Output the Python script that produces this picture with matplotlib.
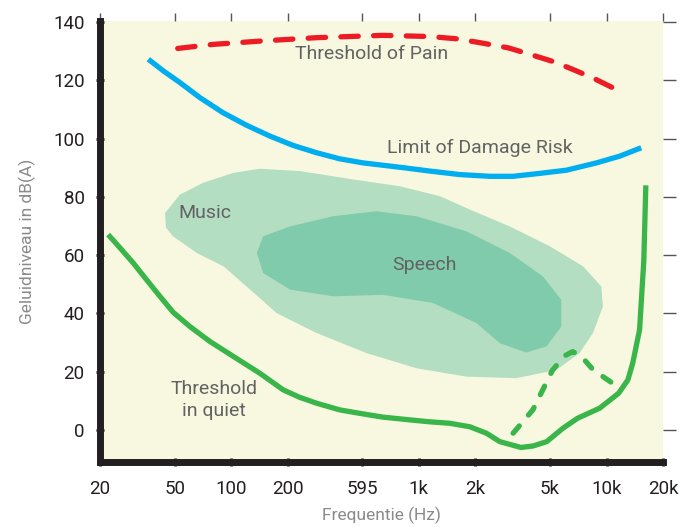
import matplotlib.pyplot as plt
from matplotlib.ticker import FixedLocator, NullLocator

plt.rcParams['font.family'] = ['Roboto', 'DejaVu Sans']

# tick positions / labels (the "595" label sits on the 500 Hz position)
x_ticks = [20, 50, 100, 200, 500, 1000, 2000, 5000, 10000, 20000]
x_labels = ['20', '50', '100', '200', '595', '1k', '2k', '5k', '10k', '20k']
y_ticks = [0, 20, 40, 60, 80, 100, 120, 140]

# Threshold of Pain (red, dashed)
pain_f = [51.9, 80.2, 148, 285, 644, 1144, 1600, 2110, 3000, 3900, 5200, 6620,
          8500, 10800]
pain_db = [131, 132.4, 133.6, 134.7, 135.5, 135.1, 134.3, 133, 131.2, 129, 126.5,
           123.8, 120.8, 117.5]

# Limit of Damage Risk (blue)
risk_f = [36.2, 43.5, 53.3, 68.2, 90.7, 121, 161, 214, 285, 379, 505, 842, 1144,
          1650, 2390, 3180, 4400, 6110, 8830, 11740, 15300]
risk_db = [127.3, 123.3, 119.3, 114.1, 108.9, 104.6, 100.9, 97.7, 95.2, 93.1, 91.7,
           90.0, 88.9, 87.7, 87.1, 87.1, 88.1, 89.2, 91.7, 94.0, 96.9]

# Threshold in quiet (green, solid)
quiet_f = [22.1, 25.6, 30.1, 35.4, 41.7, 49.1, 60.3, 77, 103, 142, 189, 232, 285,
           379, 485, 645, 1100, 1462, 1870, 2290, 2700, 3500, 4060, 4800, 5860,
           7000, 9200, 11600, 13000, 13800, 15000, 15800, 16200]
quiet_db = [67.1, 62.5, 57.3, 51.6, 45.9, 40.4, 35.5, 30.4, 25.2, 19.5, 13.8, 11.2,
            9.2, 6.9, 5.7, 4.4, 2.9, 2.3, 1.1, -1.1, -4, -6, -5.5, -4, 0.6,
            4, 7.5, 12.6, 17.2, 23, 34.4, 58, 84]

# hearing loss bump (green, dashed)
bump_f = [3180, 4050, 5160, 6000, 6600, 7300, 8500, 10800]
bump_db = [-1.1, 6.9, 20.6, 25.5, 26.9, 25.5, 20.6, 16]

# Music area
music_f = [44.4, 53.3, 71, 103, 142, 232, 429, 791, 1291, 1868, 3050, 4980,
           7500, 9380, 9570, 8470, 7190, 5410, 3310, 1795, 971, 526, 285,
           175, 126, 91, 65.5, 49, 44.9]
music_db = [74.5, 80.8, 84.9, 88.3, 89.7, 88.9, 86.2, 83.7, 80.3, 75.7, 69.9,
            63.1, 56.2, 49.3, 42.4, 33.3, 26.4, 20.6, 17.8, 18.3, 21.2, 26.4,
            33.3, 40.1, 48.2, 56.2, 60.8, 66.5, 69.5]

# Speech area
speech_f = [137, 148, 206, 349, 594, 971, 1795, 3050, 4590, 5740, 5740, 4790,
            3740, 2700, 2030, 1190, 645, 349, 206, 148]
speech_db = [60.8, 66.5, 69.9, 73.4, 75.1, 73.4, 68.2, 60.8, 52.7, 44.7, 35.5,
             28.7, 26.6, 29.8, 36.7, 43.6, 46.4, 45.9, 48.2, 53.9]

fig = plt.figure(figsize=(6.84, 5.27), dpi=100)
ax = fig.add_axes([0.1462, 0.1233, 0.8231, 0.8367])
ax.set_facecolor('#f8f8e0')
ax.set_xscale('log')
ax.set_xlim(20, 20000)
ax.set_ylim(-11, 140.4)

ax.fill(music_f, music_db, color='#b4dec2', lw=0)
ax.fill(speech_f, speech_db, color='#80cbab', lw=0)

ax.plot(risk_f, risk_db, color='#00aeef', lw=3.8, solid_capstyle='butt',
        solid_joinstyle='round')
ax.plot(quiet_f, quiet_db, color='#39b54a', lw=3.8, solid_capstyle='butt',
        solid_joinstyle='round')
ax.plot(pain_f, pain_db, color='#ed1c24', lw=3.8, dashes=(3.3, 2.9),
        dash_capstyle='round', dash_joinstyle='round')
ax.plot(bump_f, bump_db, color='#39b54a', lw=3.8, dashes=(1.8, 2.7),
        dash_capstyle='round', dash_joinstyle='round')

txt = dict(color='#626262', fontsize=14, ha='center', va='center')
ax.text(561, 129, 'Threshold of Pain', **txt)
ax.text(2110, 97, 'Limit of Damage Risk', **txt)
ax.text(72.5, 74.6, 'Music', **txt)
ax.text(1075, 56.8, 'Speech', **txt)
ax.text(81, 10.3, 'Threshold\nin quiet', linespacing=1.3, **txt)

for s in ['top', 'right']:
    ax.spines[s].set_visible(False)
for s in ['left', 'bottom']:
    ax.spines[s].set_linewidth(5)
    ax.spines[s].set_color('#231f20')

ax.xaxis.set_major_locator(FixedLocator(x_ticks))
ax.xaxis.set_minor_locator(NullLocator())
ax.set_xticklabels(x_labels)
ax.set_yticks(y_ticks)
ax.tick_params(axis='both', direction='inout', length=6, width=2, color='#231f20',
               labelsize=13.5, labelcolor='#231f20')
ax.tick_params(axis='x', pad=10)
ax.tick_params(axis='y', pad=8)

# thin outer ticks on top and right
top = ax.secondary_xaxis('top')
top.xaxis.set_major_locator(FixedLocator(x_ticks))
top.xaxis.set_minor_locator(NullLocator())
top.tick_params(direction='out', length=6, width=1, color='#555555', labeltop=False)
top.spines['top'].set_visible(False)
right = ax.secondary_yaxis('right')
right.set_yticks(y_ticks)
right.tick_params(direction='out', length=9, width=1, color='#555555', labelright=False)
right.spines['right'].set_visible(False)

ax.set_xlabel('Frequentie (Hz)', fontsize=12.5, color='#8a8a8a', labelpad=6)
ax.set_ylabel('Geluidniveau in dB(A)', fontsize=12.5, color='#8a8a8a', labelpad=12)

fig.savefig('out.png', dpi=100)
